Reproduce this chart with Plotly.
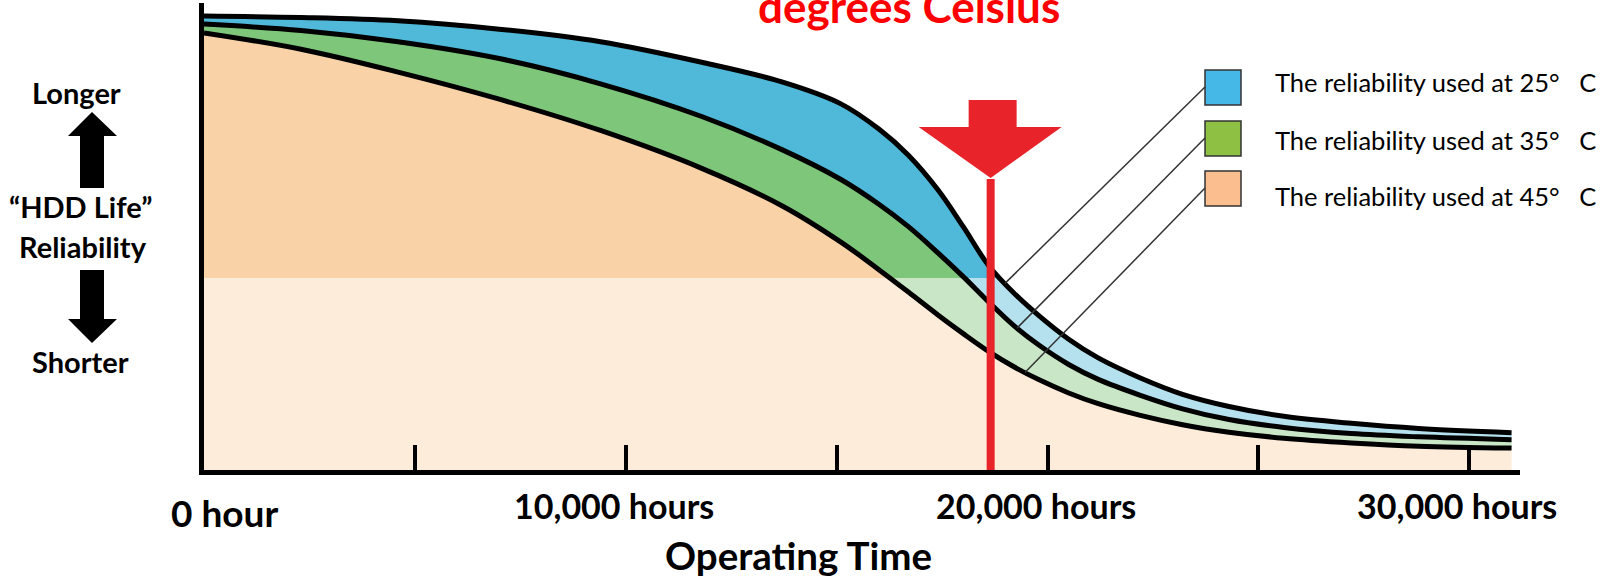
import numpy as np
import plotly.graph_objects as go

# ---------------------------------------------------------------------------
# Data: HDD reliability vs. operating time at three ambient temperatures
# ---------------------------------------------------------------------------
hours = [0, 2300, 4600, 7000, 9400, 11800, 13700, 15100, 16000, 16700, 17400, 18000,
         18600, 19200, 19800, 20500, 21200, 22200, 23200, 24300, 25600, 27200, 28800, 31000]

rel_25c = [97.2, 96.9, 96.2, 94.4, 91.7, 87.3, 83.1, 78.4, 73.0, 67.4, 60.0, 52.1,
           43.8, 37.9, 33.0, 28.0, 24.0, 19.7, 16.2, 13.6, 11.5, 10.0, 8.9, 8.0]
rel_35c = [95.5, 94.1, 91.7, 88.1, 82.7, 75.7, 68.6, 62.2, 56.9, 52.1, 46.5, 41.4,
           36.0, 30.9, 26.7, 22.6, 19.4, 16.0, 13.1, 10.8, 9.1, 7.8, 7.1, 6.5]
rel_45c = [93.6, 90.1, 85.2, 79.4, 72.7, 64.6, 56.6, 48.8, 42.9, 38.1, 33.2, 29.2,
           25.4, 22.1, 19.3, 16.5, 14.2, 11.7, 9.7, 8.1, 6.8, 5.8, 5.1, 4.7]

series_names = ["The reliability used at 25°\u00a0\u00a0\u00a0C",
                "The reliability used at 35°\u00a0\u00a0\u00a0C",
                "The reliability used at 45°\u00a0\u00a0\u00a0C"]

tick_hours = [5000, 10000, 15000, 20000, 25000, 30000]
label_hours = [0, 10000, 20000, 30000]
label_text = ["0 hour", "10,000 hours", "20,000 hours", "30,000 hours"]

marker_hours = 18650          # highlighted operating time
shade_level = 41.1            # reliability below which the bands are drawn lighter
leader_hours = [18990, 19275, 19464]   # where each callout touches its curve

# ---------------------------------------------------------------------------
# Layout geometry (pixels)
# ---------------------------------------------------------------------------
FIG_W, FIG_H = 1604, 579
L, R, T, B = 204, 1520, 3, 470
PW, PH = R - L, B - T
X_MAX, Y_MAX = 31200, 100


def pxx(x):
    return (x - L) / PW


def pxy(y):
    return (B - y) / PH


BLUE = "#50B8D8"
GREEN = "#7EC67A"
PEACH = "#F9D2A8"
BOX_COLORS = ["#45B8E8", "#8DC043", "#FABE8F"]
RED = "#E8232A"
FONT = "Lato"

fig = go.Figure()

# Filled bands
fig.add_trace(go.Scatter(x=hours, y=rel_45c, mode="lines", line=dict(width=0, shape="spline"),
                         fill="tozeroy", fillcolor=PEACH, hoverinfo="skip", showlegend=False))
fig.add_trace(go.Scatter(x=hours, y=rel_35c, mode="lines", line=dict(width=0, shape="spline"),
                         fill="tonexty", fillcolor=GREEN, hoverinfo="skip", showlegend=False))
fig.add_trace(go.Scatter(x=hours, y=rel_25c, mode="lines", line=dict(width=0, shape="spline"),
                         fill="tonexty", fillcolor=BLUE, hoverinfo="skip", showlegend=False))

# Lighter wash over the lower part of the chart
fig.add_trace(go.Scatter(x=[0, X_MAX, X_MAX, 0, 0],
                         y=[0, 0, shade_level, shade_level, 0],
                         mode="lines", line=dict(width=0), fill="toself",
                         fillcolor="rgba(255,255,255,0.58)", hoverinfo="skip", showlegend=False))

# Curve outlines
for rel in (rel_25c, rel_35c, rel_45c):
    fig.add_trace(go.Scatter(x=hours, y=rel, mode="lines",
                             line=dict(color="black", width=5, shape="spline"),
                             hoverinfo="skip", showlegend=False))

shapes = []

# Highlight marker: vertical line plus arrow head
marker_px = L + marker_hours / X_MAX * PW
shapes.append(dict(type="line", xref="x", yref="paper", x0=marker_hours, x1=marker_hours,
                   y0=0, y1=pxy(179), line=dict(color=RED, width=8), layer="above"))
arrow = [(marker_px - 22, 100), (marker_px + 26, 100), (marker_px + 26, 127),
         (marker_px + 71, 127), (marker_px, 178), (marker_px - 72, 127),
         (marker_px - 22, 127)]
path = "M " + " L ".join(f"{pxx(x):.5f},{pxy(y):.5f}" for x, y in arrow) + " Z"
shapes.append(dict(type="path", xref="paper", yref="paper", path=path,
                   fillcolor=RED, line=dict(width=0), layer="above"))

# Legend boxes and callout lines
box_tops = [70, 121, 171]
for i, (rel, h_end, top) in enumerate(zip((rel_25c, rel_35c, rel_45c), leader_hours, box_tops)):
    shapes.append(dict(type="rect", xref="paper", yref="paper",
                       x0=pxx(1205), x1=pxx(1241), y0=pxy(top + 35), y1=pxy(top),
                       fillcolor=BOX_COLORS[i], line=dict(color="#333333", width=1.5),
                       layer="above"))
    y_end = float(np.interp(h_end, hours, rel))
    shapes.append(dict(type="line", xref="x", yref="y", x0=h_end, y0=y_end,
                       x1=(1205 - L) / PW * X_MAX, y1=(B - (top + 17)) / PH * Y_MAX,
                       line=dict(color="#333333", width=1.5), layer="above"))

# Up / down arrows beside the vertical label
up = [(80, 188), (104, 188), (104, 136), (117, 136), (92, 112), (68, 136), (80, 136)]
down = [(80, 270), (104, 270), (104, 319), (117, 319), (92, 343), (68, 319), (80, 319)]
for poly in (up, down):
    p = "M " + " L ".join(f"{pxx(x):.5f},{pxy(y):.5f}" for x, y in poly) + " Z"
    shapes.append(dict(type="path", xref="paper", yref="paper", path=p,
                       fillcolor="black", line=dict(width=0), layer="above"))

annotations = []


def text(x, y, s, size, bold=False, color="black", xanchor="center"):
    annotations.append(dict(x=pxx(x), y=pxy(y), xref="paper", yref="paper", text=s,
                            showarrow=False, xanchor=xanchor, yanchor="middle",
                            font=dict(family=FONT, size=size, color=color,
                                      weight=700 if bold else 400)))


# Title line (runs off the top edge)
text(909, 6, "degrees Celsius", 44, bold=True, color="#FF0000")

# Vertical axis description
text(76, 92, "Longer", 29, bold=True)
text(80, 207, "\u201cHDD Life\u201d", 29, bold=True)
text(83, 247, "Reliability", 29, bold=True)
text(81, 361, "Shorter", 29, bold=True)

# Horizontal tick labels
for h, s in zip(label_hours, label_text):
    if h == 0:
        text(224, 512, s, 37, bold=True)
    else:
        text(L + h / X_MAX * PW - 12, 506, s, 34, bold=True)

text(798, 555, "Operating Time", 38.5, bold=True)

# Legend labels
for name, cy in zip(series_names, [82, 140, 196]):
    text(1273, cy, name, 25.5, xanchor="left")

fig.update_layout(
    width=FIG_W, height=FIG_H,
    margin=dict(l=L, r=FIG_W - R, t=T, b=FIG_H - B, pad=0),
    paper_bgcolor="white", plot_bgcolor="white",
    shapes=shapes, annotations=annotations,
    xaxis=dict(range=[0, X_MAX], showgrid=False, zeroline=False, showline=True,
               linecolor="black", linewidth=5, ticks="inside", tickvals=tick_hours,
               ticklen=25, tickwidth=4, tickcolor="black", showticklabels=False,
               fixedrange=True),
    yaxis=dict(range=[0, Y_MAX], showgrid=False, zeroline=False, showline=True,
               linecolor="black", linewidth=5, ticks="", showticklabels=False,
               fixedrange=True),
)

fig.write_html("out.html")
